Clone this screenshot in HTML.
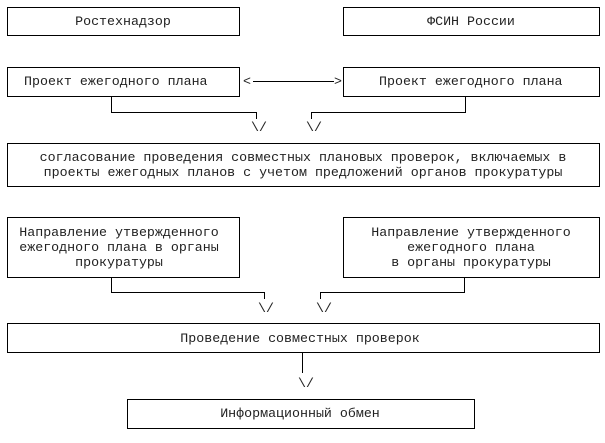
<!DOCTYPE html>
<html><head><meta charset="utf-8"><style>
html,body{margin:0;padding:0;background:#fff;}
svg text{font-family:"Liberation Mono","DejaVu Sans Mono",monospace;font-size:13.3px;fill:#222;}
</style></head><body>
<svg width="605" height="438" xmlns="http://www.w3.org/2000/svg">
<g fill="none" stroke="#000" stroke-width="1">
<rect x="7.5" y="7.5" width="232" height="28"/>
<rect x="343.5" y="7.5" width="256" height="28"/>
<rect x="7.5" y="67.5" width="232" height="29"/>
<rect x="343.5" y="67.5" width="256" height="29"/>
<line x1="253" y1="81.5" x2="334" y2="81.5"/>
<polyline points="111.5,96 111.5,112.5 256.5,112.5 256.5,119"/>
<polyline points="465.5,96 465.5,112.5 311.5,112.5 311.5,119"/>
<rect x="7.5" y="143.5" width="592" height="43"/>
<rect x="7.5" y="217.5" width="232" height="60"/>
<rect x="343.5" y="217.5" width="256" height="60"/>
<polyline points="111.5,277 111.5,292.5 264.5,292.5 264.5,299"/>
<polyline points="464.5,277 464.5,292.5 320.5,292.5 320.5,299"/>
<rect x="7.5" y="323.5" width="592" height="29"/>
<line x1="302.5" y1="352" x2="302.5" y2="373"/>
<rect x="127.5" y="399.5" width="347" height="29"/>
</g>
<text x="123" y="25" text-anchor="middle">Ростехнадзор</text>
<text x="471" y="25" text-anchor="middle">ФСИН России</text>
<text x="24" y="85">Проект ежегодного плана</text>
<text x="379" y="85">Проект ежегодного плана</text>
<text x="243" y="85">&lt;</text>
<text x="334" y="85">&gt;</text>
<text x="251" y="131">\/</text>
<text x="306" y="131">\/</text>
<text x="303" y="161" text-anchor="middle">согласование проведения совместных плановых проверок, включаемых в</text>
<text x="303" y="176" text-anchor="middle">проекты ежегодных планов с учетом предложений органов прокуратуры</text>
<text x="119" y="236" text-anchor="middle">Направление утвержденного</text>
<text x="119" y="251" text-anchor="middle">ежегодного плана в органы</text>
<text x="119" y="266" text-anchor="middle">прокуратуры</text>
<text x="471" y="236" text-anchor="middle">Направление утвержденного</text>
<text x="471" y="251" text-anchor="middle">ежегодного плана</text>
<text x="471" y="266" text-anchor="middle">в органы прокуратуры</text>
<text x="258" y="312">\/</text>
<text x="316" y="312">\/</text>
<text x="300" y="342" text-anchor="middle">Проведение совместных проверок</text>
<text x="298" y="387">\/</text>
<text x="300" y="417" text-anchor="middle">Информационный обмен</text>
</svg>
</body></html>
